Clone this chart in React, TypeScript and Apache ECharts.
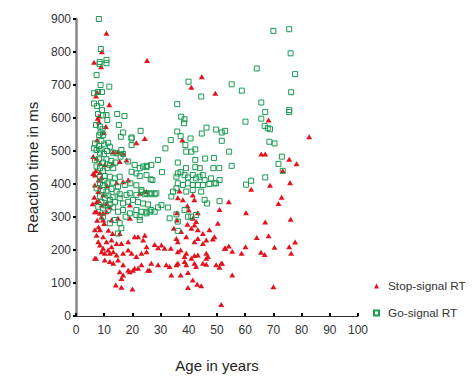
import React, { useEffect, useRef } from "react";
import * as echarts from "echarts";

const seriesNames = ["Stop-signal RT", "Go-signal RT"];
const xTicks = [0, 10, 20, 30, 40, 50, 60, 70, 80, 90, 100];
const yTicks = [0, 100, 200, 300, 400, 500, 600, 700, 800, 900];

// [age in years, reaction time in ms]
const stopSignal: number[][] = [
  [10.8,857],[9.2,801],[6.4,769],[8.9,755],[25.2,774],[7.1,667],[7.5,677],[11.8,640],[8.2,606],[7.7,599],[8.1,589],[10.6,574],[9.9,556],[24.4,538],[7.5,533],[21.4,525],[14.9,498],[6.1,483],[7.3,478],[8.5,463],[10.2,458],[17.9,473],[6.1,432],[8.5,435],[13,461],[6.7,427],[8,412],[14.4,404],[16.7,407],[18.5,412],[25,377],[22.6,372],[6.7,397],[8.5,392],[7.9,377],[9.6,367],[7.3,346],[9.1,336],[10.8,341],[19.1,336],[7.3,316],[9.6,311],[10.8,316],[15.5,468],[16.7,493],[13.2,498],
  [7,440],[9,420],[11,395],[6.5,360],[8,350],[12,330],[9,300],[7.5,290],[10,280],[11.5,260],[13,250],[8,270],
  [6.7,316],[8.5,311],[9.6,291],[12.6,291],[14.9,296],[19.1,296],[7.3,245],[9.6,240],[7.9,225],[10.8,225],[12.6,230],[14.4,220],[15.5,250],[16.1,220],[18.5,225],[20.8,240],[22,240],[23.8,230],[8.5,215],[9.6,205],[11.4,200],[12.6,210],[9.1,195],[10.2,190],[12,190],[13.2,195],[14.4,185],[16.7,190],[18.5,200],[19.7,190],[21.4,180],[23.2,190],[25,195],[6.7,175],[10.2,170],[12,165],[13.2,160],[14.9,170],[16.7,155],[18.5,139],[20.2,139],[22,145],[23.2,155],[25.5,139],[15.5,134],[16.7,124],[16.1,114],[20.8,145],[19.1,134],[14.1,94],[16.1,87],[20,82],[7.1,175],[6.7,261],[8.5,261],[5.9,340],
  [44.6,725],[40.9,693],[49.4,675],[37.7,533],[68.3,594],[82.7,543],[65.7,491],[67.1,491],[75.6,475],[78.2,461],[73.3,440],[68.8,396],[75.9,404],[62.1,384],[72.9,360],[54.2,346],[50.9,323],[60.3,313],[71.8,341],[76.1,293],[67.1,285],[50.3,281],[43.2,313],[68.3,243],[64.1,238],[77.7,224],[60.1,210],[70.4,208],[75.6,210],[53,205],[54.2,212],[55.4,196],[58.7,190],[65.6,193],[66.9,186],[76.3,190],[49.7,155],[50.9,148],[51.8,160],[55.4,124],[70,89],[51.5,35],
  [36.7,379],[36.1,358],[37.9,352],[41.4,367],[42,352],[39.5,334],[40,321],[35.8,313],[35.8,291],[41.4,296],[39.5,278],[40.9,266],[42,276],[43.2,261],[42.6,286],[34.7,266],[37.3,256],[39.1,240],[35.6,235],[36.1,225],[45,250],[47.3,261],[49.1,240],[48.5,233],[46.2,230],[45,220],[43.2,235],[42,225],[24.4,245],[25,210],[27.9,217],[29.1,207],[30.3,215],[31.4,205],[33.6,205],[36.1,195],[37.1,200],[39.1,190],[38.5,180],[40.9,175],[42,183],[43.2,185],[46.2,190],[46.8,180],[46.2,175],[52.7,205],[26.7,160],[29.1,155],[32,155],[33.2,150],[35.6,155],[36.1,160],[38.5,165],[39.1,155],[42,160],[42.6,150],[45,160],[46.2,157],[51.5,160],[26.1,139],[33.8,124],[37.1,124],[39.7,132],[41.4,109],[39.7,86],[43,96],[44.4,92]
];

const goSignal: number[][] = [
  [8.1,900],[8.8,809],[8.4,770],[8.4,764],[10.8,776],[10.8,766],[7.3,730],[8.7,700],[11.8,695],[6.4,675],[7.8,679],[9.2,679],[6.4,644],[7.5,636],[8.9,646],[9.2,624],[7.8,612],[9.6,608],[14.6,612],[17.2,606],[10.8,609],[11.1,594],[7.1,579],[8.5,574],[9.4,566],[15.2,579],[8.7,556],[9.6,548],[8.2,548],[16.7,556],[15.9,543],[19.7,541],[22.9,561],[6.7,523],[8.2,515],[11.4,525],[12,513],[6.4,508],[7.3,503],[8.7,505],[8.5,495],[9.9,491],[13.2,495],[14.4,493],[16.1,503],[16.7,491],[15.8,483],[6.7,473],[8.2,475],[9.6,465],[10.8,475],[18.5,468],[20.8,458],[22.6,448],[23.8,453],[25,451],[26.7,458],[29.1,473],[7.3,453],[8.5,448],[9.6,440],[11.1,448],[12,458],[13.2,448],[19.7,437],[21.4,432],[22.6,424],[25,427],[27.1,412],[8.5,422],[10.2,424],[12,422],[13.8,417],[15.5,422],[8.5,402],[9.6,397],[11.1,402],[13.2,404],[14.9,392],[17.3,397],[19.3,402],[21.4,396],[23.2,382],[25,372],[26.7,372],[28.5,372],[19.7,538],[19.7,518],
  [10,520],[9,530],[11,500],[12.5,470],[14,465],[10,410],[11.5,365],[13,360],[12,340],[10.5,335],[9,345],
  [7.3,387],[9.6,382],[10.8,377],[12.6,385],[14.4,377],[15.5,369],[17.9,367],[19.1,372],[21.4,367],[23.2,377],[8.5,362],[10.2,357],[12,352],[13.8,346],[15.5,357],[16.7,341],[18.5,346],[20.2,352],[22,345],[23.8,341],[25.5,338],[7.9,331],[9.6,326],[11.4,321],[13.2,329],[14.9,316],[16.7,321],[19.1,311],[21.4,321],[23.2,316],[25,311],[9.6,301],[13.8,291],[17.6,301],[22.6,291],[12,281],[15.5,281],[16.1,266],[14.9,250],[22.6,301],[21.4,306],
  [39.9,710],[55.2,702],[44.4,665],[35.9,642],[37.3,604],[38.5,596],[38.3,584],[35.9,559],[37.1,545],[40.6,538],[33.6,533],[46.3,571],[44.6,553],[49.7,565],[51.7,556],[52.9,561],[51.7,531],[38.8,518],[42.3,505],[40.9,498],[39.1,498],[31.7,508],[36.1,465],[42.3,473],[45.8,477],[48.9,479],[55.2,455],[50.8,448],[48.7,448],[43.9,448],[42.3,451],[39,448],[30.5,436],[25.1,455],[26.5,414],[36.1,432],[35.6,422],[37.1,436],[38.5,427],[39.7,420],[41.4,427],[42.6,417],[43.8,422],[45,427],[45.6,412],[47.9,417],[49.7,402],[50.9,412],[36.1,402],[37.9,397],[39.7,402],[41.4,397],[43.2,397],[45,397],[47.3,400],[49.1,402],
  [70,864],[75.6,869],[76.1,796],[64.1,750],[77.7,733],[58.8,683],[76.3,678],[65.7,647],[67.1,618],[65.7,598],[75.6,624],[75.6,618],[60.1,589],[66.9,576],[68,569],[68.8,566],[68.6,528],[70.4,523],[73,483],[71.8,461],[73.3,440],[67.1,420],[62.1,410],[60.3,398],[54.3,498],
  [24.4,369],[26.1,369],[27.9,369],[25,316],[26.1,316],[26.7,321],[27.9,316],[30.3,336],[29.1,329],[32.6,329],[33.2,296],[35.6,308],[38.5,321],[39.7,301],[40.9,301],[42.6,306],[36.1,286],[36.1,258],[45.6,352],[46.5,341],[50.9,348],[44.4,377],[33.8,362],[34.4,377],[35.6,387],[39.1,377],[41.4,382]
];

const RED = "#e3121c";
const GREEN = "#1a9a52";
const FONT = "Liberation Sans, Arial, sans-serif";

export default function App() {
  const ref = useRef<HTMLDivElement>(null);
  useEffect(() => {
    if (!ref.current) return;
    const chart = echarts.init(ref.current, null, { renderer: "svg" });
    chart.setOption({
      animation: false,
      backgroundColor: "#ffffff",
      grid: { left: 76, top: 19, right: 116, bottom: 63 },
      legend: {
        orient: "vertical",
        left: 368,
        top: 275,
        itemWidth: 5,
        itemHeight: 5,
        itemGap: 15,
        textStyle: { fontFamily: FONT, fontSize: 11.8, color: "#333", padding: [0, 0, 0, 4] },
        data: seriesNames,
      },
      xAxis: {
        type: "value",
        min: xTicks[0],
        max: xTicks[xTicks.length - 1],
        interval: 10,
        name: "Age in years",
        nameLocation: "middle",
        nameGap: 42,
        nameTextStyle: { fontFamily: FONT, fontSize: 15, color: "#222" },
        splitLine: { show: false },
        axisLine: { lineStyle: { color: "#333", width: 1.2 } },
        axisTick: { length: 3, inside: true, lineStyle: { color: "#000", width: 2 } },
        axisLabel: { fontFamily: FONT, fontSize: 12, color: "#333", margin: 8 },
      },
      yAxis: {
        type: "value",
        min: yTicks[0],
        max: yTicks[yTicks.length - 1],
        interval: 100,
        name: "Reaction time in ms",
        nameLocation: "middle",
        nameGap: 33,
        nameTextStyle: { fontFamily: FONT, fontSize: 15, color: "#222" },
        splitLine: { show: false },
        axisLine: { lineStyle: { color: "#888", width: 2.5 } },
        axisTick: { length: 3, lineStyle: { color: "#000", width: 2 } },
        axisLabel: { fontFamily: FONT, fontSize: 12, color: "#333", margin: 5 },
      },
      series: [
        {
          name: seriesNames[0],
          type: "scatter",
          symbol: "triangle",
          symbolSize: [6, 5],
          itemStyle: { color: RED, opacity: 1 },
          data: stopSignal,
          z: 2,
        },
        {
          name: seriesNames[1],
          type: "scatter",
          symbol: "rect",
          symbolSize: 5,
          itemStyle: { color: "rgba(255,255,255,0)", borderColor: GREEN, borderWidth: 1, opacity: 1 },
          data: goSignal,
          z: 3,
        },
      ],
    });
    return () => chart.dispose();
  }, []);
  return (
    <div
      ref={ref}
      style={{ position: "fixed", left: 0, top: 0, width: 474, height: 379, background: "#fff" }}
    />
  );
}
